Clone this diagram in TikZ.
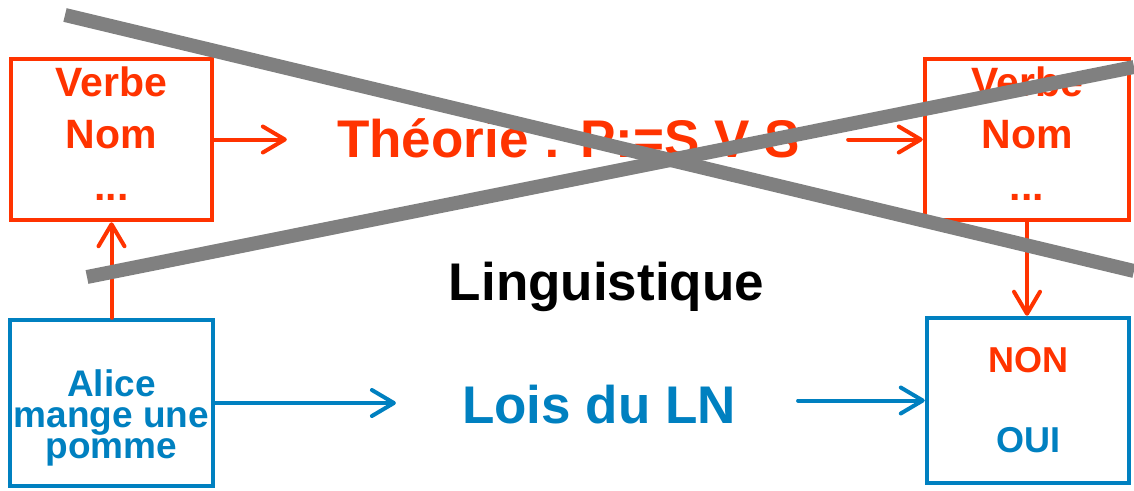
\documentclass[tikz,border=0pt]{standalone}
\usepackage{fontspec}
\setmainfont{Liberation Sans}
\usetikzlibrary{arrows.meta}

\definecolor{lnred}{RGB}{255,51,0}
\definecolor{lnblue}{RGB}{0,128,192}

\begin{document}
\begin{tikzpicture}[x=1pt, y=-1pt,
	redbox/.style={draw=lnred, text=lnred, line width=4.5pt, align=center,
		font=\fontsize{41pt}{52pt}\selectfont\bfseries},
	bluebox/.style={draw=lnblue, text=lnblue, line width=4.5pt, align=center},
	redarrow/.style={draw=lnred, line width=4pt, line cap=round,
		-{Straight Barb[length=22pt, width=26pt, round]}},
	bluearrow/.style={redarrow, draw=lnblue},
	bigtext/.style={anchor=base, inner sep=0pt, font=\fontsize{53pt}{60pt}\selectfont\bfseries},
	cross/.style={draw=gray, line width=14pt}]
	\useasboundingbox (0, 0) rectangle (1134, 490);

	% boxes
	\node[redbox, minimum width=201pt, minimum height=161pt] (verbL) at (111.5, 139.5)
		{Verbe\\Nom\\...\rule[-12pt]{0pt}{12pt}};
	\node[redbox, minimum width=204pt, minimum height=161pt] (verbR) at (1027, 139.5)
		{Verbe\\Nom\\...\rule[-12pt]{0pt}{12pt}};
	\node[bluebox, minimum width=203pt, minimum height=166pt,
		font=\fontsize{37pt}{31pt}\selectfont\bfseries] (alice) at (111.5, 403)
		{\rule{0pt}{57pt}Alice\\mange une\\pomme};
	\node[bluebox, minimum width=202pt, minimum height=165pt,
		font=\fontsize{36pt}{80pt}\selectfont\bfseries] (answer) at (1028, 400.5)
		{\textcolor{lnred}{NON}\\OUI};

	% labels
	\node[bigtext, text=lnred] (theory) at (568.5, 157) {Théorie : P:=S V S};
	\node[bigtext] (ling) at (606.5, 300) {Linguistique};
	\node[bigtext, text=lnblue] (lois) at (599, 423) {Lois du LN};

	% arrows
	\draw[redarrow, shorten >=50pt] (verbL.east) -- (theory.west |- verbL.east);
	\draw[redarrow, shorten <=48pt] (theory.east |- verbR.west) -- (verbR.west);
	\draw[redarrow] (alice.north) -- (verbL.south);
	\draw[redarrow] (verbR.south) -- (verbR.south |- answer.north);
	\draw[bluearrow, shorten >=66pt] (alice.east) -- (lois.west |- alice.east);
	\draw[bluearrow, shorten <=62pt] (lois.east |- answer.west) -- (answer.west);

	% crossing out
	\draw[cross] (65, 15) -- (1134, 271);
	\draw[cross] (87, 277) -- (1134, 67);
\end{tikzpicture}
\end{document}
